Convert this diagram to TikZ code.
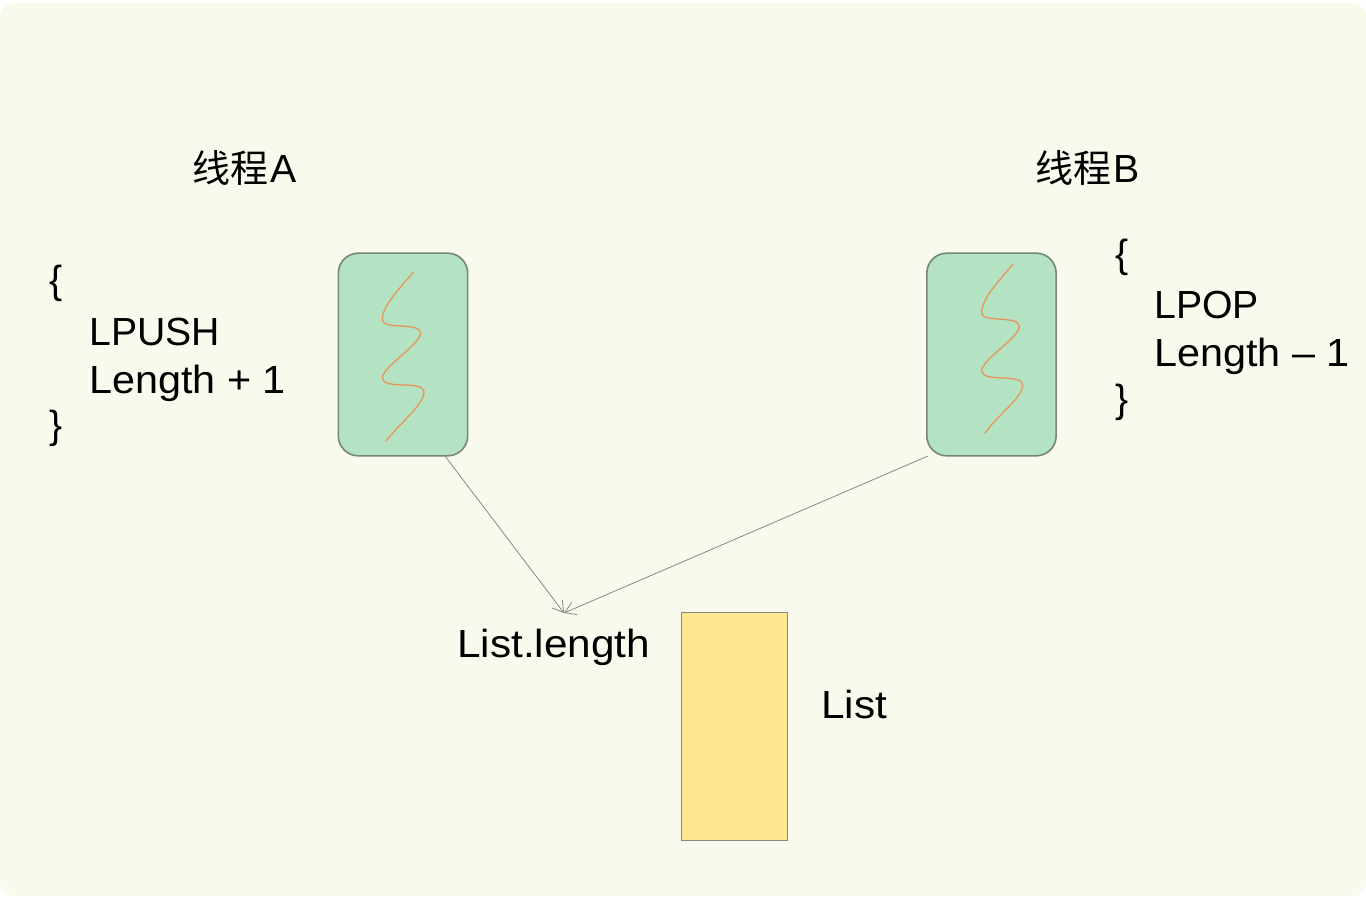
\documentclass[tikz,border=0pt]{standalone}
\usepackage{fontspec}
\setmainfont{Liberation Sans}
\newfontfamily\widefont[FakeStretch=1.055]{Liberation Sans}
\newfontfamily\widerfont[FakeStretch=1.08]{Liberation Sans}
\newfontfamily\cjkfont{Noto Sans CJK SC}
\usetikzlibrary{arrows.meta}
\definecolor{bgc}{HTML}{F8FAEE}
\definecolor{greenc}{HTML}{B3E3C2}
\definecolor{yellowc}{HTML}{FCE690}
\definecolor{edgec}{HTML}{788578}
\definecolor{linec}{HTML}{858A80}
\definecolor{wavec}{HTML}{E8975C}
\tikzset{
  x=0.75pt,y=-0.75pt,
  lbl/.style={inner sep=0pt,anchor=base west,text=black,font=\fontsize{29.4pt}{32pt}\selectfont},
  widelbl/.style={lbl,font=\widefont\fontsize{29.4pt}{32pt}\selectfont},
  widerlbl/.style={lbl,font=\widerfont\fontsize{29.4pt}{32pt}\selectfont},
  threadbox/.style={draw=edgec,fill=greenc,line width=1.2pt,rounded corners=15pt,minimum width=97pt,minimum height=152pt,inner sep=0pt},
  wave/.style={draw=wavec,line width=1pt,line cap=round},
  conn/.style={draw=linec,line width=0.6pt,-{Straight Barb[length=8pt,width=10pt,line width=0.6pt]}}
}
\begin{document}
\begin{tikzpicture}
\useasboundingbox (0,0) rectangle (1366,898);
\fill[white] (0,0) rectangle (1366,898);
\fill[bgc,rounded corners=10pt] (0,3) rectangle (1366,896);
\node[threadbox] (boxA) at (403,354.5) {};
\node[threadbox] (boxB) at (991.5,354.5) {};
\node[draw=linec,fill=yellowc,line width=0.6pt,minimum width=79pt,minimum height=171.5pt,inner sep=0pt] (listbox) at (734.5,726.5) {};
\draw[wave] (413.3,272.3) .. controls (400,288) and (382,306) .. (382.3,320) .. controls (383,330) and (421,322) .. (420.7,333) .. controls (420,345) and (382,367) .. (382.3,378.3) .. controls (383,390) and (424,380) .. (424,391.7) .. controls (424,405) and (398,425) .. (386,441);
\draw[wave] (1012.7,264.3) .. controls (1000,280) and (981,299) .. (981.7,313) .. controls (982,323) and (1020,315) .. (1019.3,326.7) .. controls (1019,338) and (981,360) .. (981.7,371) .. controls (982,383) and (1023,373) .. (1022.7,385) .. controls (1022,399) and (997,415) .. (985,433.3);
\node[lbl] (titleA) at (192,183) {{\cjkfont\fontsize{28.5pt}{32pt}\selectfont 线程}\hspace{1.5pt}A};
\node[lbl] (titleB) at (1035,183) {{\cjkfont\fontsize{28.5pt}{32pt}\selectfont 线程}\hspace{1.5pt}B};
\node[lbl] (a1) at (49,294) {\{};
\node[lbl] (a2) at (89,345) {LPUSH};
\node[widelbl] (a3) at (89,393) {Length + 1};
\node[lbl] (a4) at (49,438) {\}};
\node[lbl] (b1) at (1115,268) {\{};
\node[lbl] (b2) at (1154,319) {LPOP};
\node[widelbl] (b3) at (1154,367) {Length – 1};
\node[lbl] (b4) at (1115,412) {\}};
\node[widerlbl] (len) at (457,657) {List.length};
\node[widerlbl] (lst) at (821,718) {List};
\coordinate (tip) at (564,613);
\coordinate (aout) at (445,456);
\coordinate (bout) at (928,456);
\draw[conn] (aout) -- (tip);
\draw[conn] (bout) -- (tip);
\end{tikzpicture}
\end{document}
